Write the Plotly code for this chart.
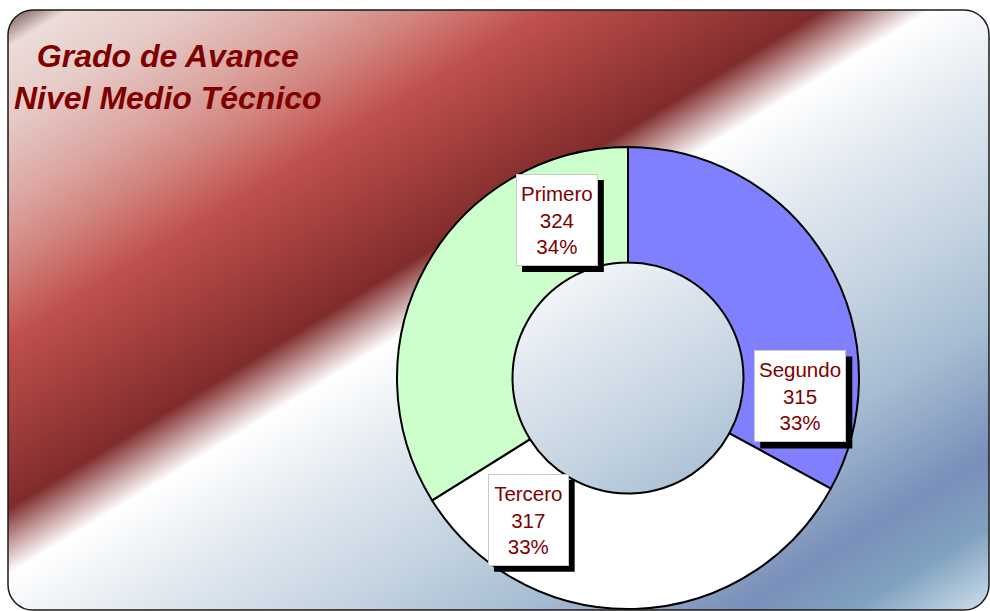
import numpy as np
import plotly.graph_objects as go

# ---------------- data ----------------
title_lines = ["Grado de Avance", "Nivel Medio Técnico"]
categories = ["Segundo", "Tercero", "Primero"]
values = [315, 317, 324]
slice_colors = ["#8080ff", "#ffffff", "#ccffcc"]

# ---------------- layout constants ----------------
W, H = 990, 611
dom_x = [397 / W, 859 / W]
dom_y = [2 / H, 464 / H]
hole = 0.5
label_shift = 36.8  # Excel places the labels rotated from the slice middle
text_red = "#800000"
lab_size = 20.5
lab_pad = 3

# Arial / Liberation Sans advance widths (em) for box sizing
ARIAL_W = {"P": .667, "S": .667, "T": .611, "r": .333, "i": .222, "m": .833, "e": .556,
           "o": .556, "g": .556, "u": .556, "n": .556, "d": .556, "c": .5, "%": .889}


def text_w(s, size):
    return sum(ARIAL_W.get(ch, .556) for ch in s) * size


# background gradient (diagonal, Excel-like preset)
bg_scale = [
    [0.00, "#6e4c4c"],
    [0.03, "#ecdcd8"],
    [0.09, "#e6cbc7"],
    [0.16, "#dca7a3"],
    [0.21, "#d2857f"],
    [0.275, "#c0504d"],
    [0.345, "#a03e3c"],
    [0.415, "#802c2c"],
    [0.445, "#c8a2a2"],
    [0.47, "#ffffff"],
    [0.56, "#e2e9f0"],
    [0.66, "#c6d5e2"],
    [0.76, "#a6bdd2"],
    [0.87, "#7a8fba"],
    [0.93, "#80a2c0"],
    [1.00, "#d0e0ea"],
]
bx0, by0, bx1, by1, rad = 8, 10, 989, 610, 25

xs = np.linspace(0, W, 199)
ys = np.linspace(0, H, 123)
X, Y = np.meshgrid(xs, ys)
U = np.clip((X - bx0) / (bx1 - bx0), 0, 1)
V = np.clip((Y - by0) / (by1 - by0), 0, 1)
Z = (U + V) / 2

fig = go.Figure()
fig.add_trace(go.Heatmap(x=xs, y=ys, z=Z, colorscale=bg_scale, zmin=0, zmax=1,
                         zsmooth="best", showscale=False, hoverinfo="skip"))
fig.add_trace(go.Pie(labels=categories, values=values, hole=hole, sort=False,
                     direction="clockwise", rotation=0,
                     marker=dict(colors=slice_colors, line=dict(color="black", width=2)),
                     textinfo="none", domain=dict(x=dom_x, y=dom_y),
                     showlegend=False, hoverinfo="skip"))

# ---------------- frame ----------------
k = 0.5523 * rad
rr = (f"M {bx0+rad},{by0} L {bx1-rad},{by0} "
      f"C {bx1-rad+k},{by0} {bx1},{by0+rad-k} {bx1},{by0+rad} "
      f"L {bx1},{by1-rad} C {bx1},{by1-rad+k} {bx1-rad+k},{by1} {bx1-rad},{by1} "
      f"L {bx0+rad},{by1} C {bx0+rad-k},{by1} {bx0},{by1-rad+k} {bx0},{by1-rad} "
      f"L {bx0},{by0+rad} C {bx0},{by0+rad-k} {bx0+rad-k},{by0} {bx0+rad},{by0} Z")
outer = f"M -10,-10 L {W+10},-10 L {W+10},{H+10} L -10,{H+10} Z "
shapes = [
    dict(type="path", path=outer + rr, xref="x", yref="y", fillcolor="white",
         fillrule="evenodd", line=dict(width=0), layer="above"),
    dict(type="path", path=rr, xref="x", yref="y", line=dict(color="#1a1a1a", width=1.5),
         layer="above"),
]

# ---------------- data labels ----------------
total = sum(values)
cx = (dom_x[0] + dom_x[1]) / 2 * W
cy = H - (dom_y[0] + dom_y[1]) / 2 * H
r_out = min((dom_x[1] - dom_x[0]) * W, (dom_y[1] - dom_y[0]) * H) / 2
r_lab = r_out * (1 + hole) / 2
annotations = []
cum = 0
for cat, val in zip(categories, values):
    mid = (cum + val / 2) / total * 360
    cum += val
    a = np.radians(mid + label_shift)
    lx = cx + r_lab * np.sin(a)
    ly = cy - r_lab * np.cos(a)
    lines = [cat, str(val), f"{round(100 * val / total)}%"]
    inner_w = max(text_w(s, lab_size) for s in lines) + 2
    inner_h = 84
    bw = inner_w + 2 * (lab_pad + 1)
    bh = inner_h + 2 * (lab_pad + 1)
    # drop shadow of the label box
    shapes.append(dict(type="rect", xref="x", yref="y", layer="above",
                       x0=lx - bw / 2 + 6, x1=lx + bw / 2 + 6,
                       y0=ly - bh / 2 + 6, y1=ly + bh / 2 + 6,
                       fillcolor="black", line=dict(width=0)))
    annotations.append(dict(x=lx, y=ly, xref="x", yref="y", text="<br>".join(lines),
                            showarrow=False, width=inner_w, height=inner_h,
                            borderwidth=1, borderpad=lab_pad, align="center", valign="middle",
                            font=dict(family="Liberation Sans, Arial", size=lab_size, color=text_red),
                            bgcolor="white", bordercolor="#c8c8c8"))

annotations.append(dict(x=168 / W, y=1 - 77 / H, xref="paper", yref="paper",
                        text="<br>".join(title_lines), showarrow=False,
                        xanchor="center", yanchor="middle", align="center",
                        font=dict(family="Liberation Sans, Arial", size=32, color=text_red,
                                  weight="bold", style="italic")))

fig.update_layout(
    width=W, height=H, margin=dict(l=0, r=0, t=0, b=0),
    paper_bgcolor="white", plot_bgcolor="white",
    xaxis=dict(range=[0, W], visible=False, fixedrange=True),
    yaxis=dict(range=[H, 0], visible=False, fixedrange=True),
    annotations=annotations, shapes=shapes, showlegend=False,
)
fig.write_html("out.html", config={"displayModeBar": False},
               post_script="document.body.style.margin='0';document.body.style.overflow='hidden';")
